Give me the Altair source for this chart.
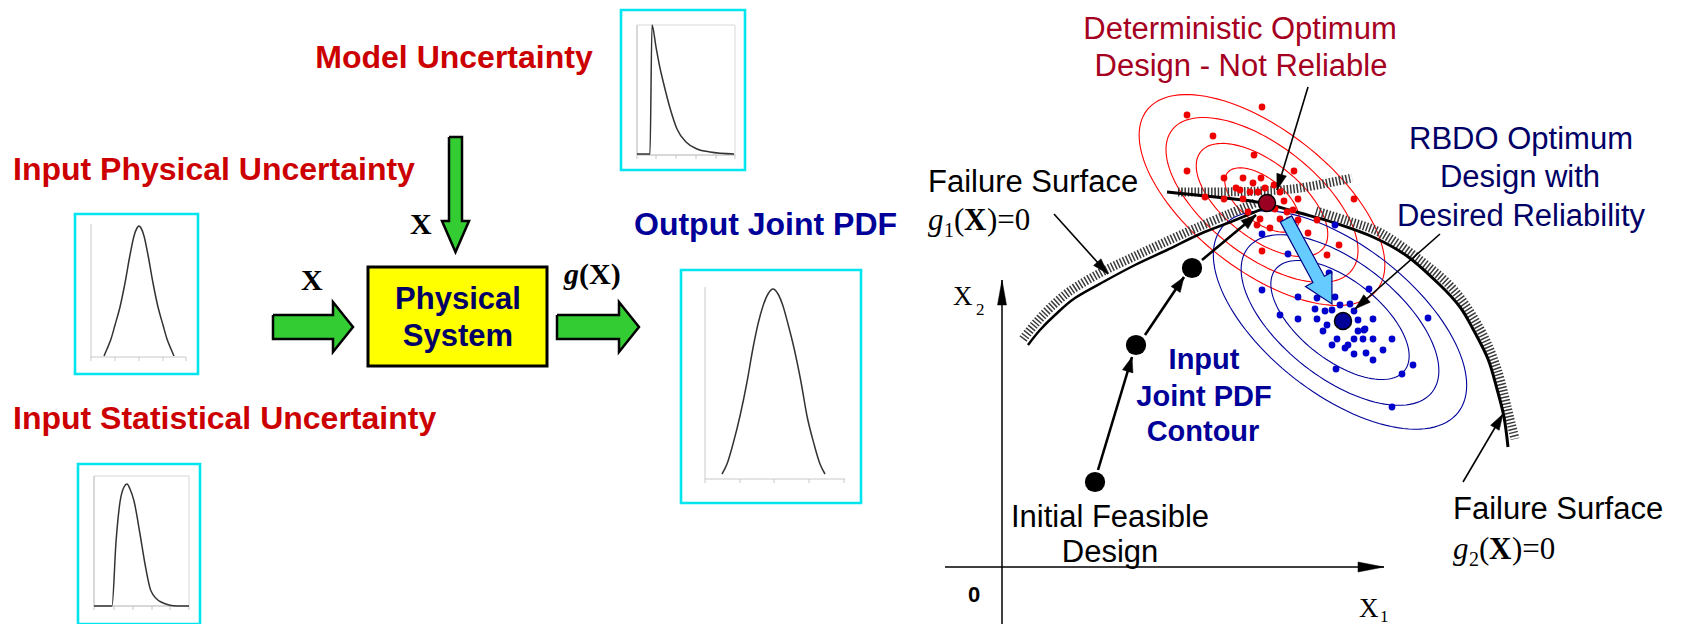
import math
import altair as alt
import pandas as pd

PAGE_W, PAGE_H, MARGIN = 1681, 624, 8
PLOT_W, PLOT_H = PAGE_W - 2 * MARGIN, PAGE_H - 2 * MARGIN

# ---------------- left half: boxes ----------------
BOX_X1 = [621, 75, 681, 78]      # model, physical, output, statistical
BOX_X2 = [745, 198, 861, 200]
BOX_Y1 = [8, 212, 268, 462]
BOX_Y2 = [168, 372, 501, 622]

SYS_X1, SYS_X2, SYS_Y1, SYS_Y2 = [368], [547], [265], [364]

FRAME_X1 = [637, 91, 705, 94]
FRAME_X2 = [735, 186, 845, 189]
FRAME_Y1 = [23, 222, 285, 474]
FRAME_Y2 = [153, 355, 477, 604]
FRAME_FULL = [True, False, False, True]

TICK_X = [[637, 656, 676, 696, 716, 735], [91, 115, 139, 163, 186],
          [705, 740, 774, 809, 844], [94, 114, 133, 152, 170, 189]]

# mini pdf curves
MODEL_PDF_X = [637, 650, 652, 656, 660, 664, 670, 677, 686, 697, 710, 734]
MODEL_PDF_Y = [152, 152, 23, 45, 66, 83, 106, 127, 140, 147, 150, 152]
PHYS_PDF_X = [104, 107, 111, 115, 120, 125, 130, 134, 137, 139, 141, 144, 148, 153, 158, 163, 167, 171, 174]
PHYS_PDF_Y = [354, 347, 337, 323, 305, 281, 253, 234, 226, 224, 226, 234, 253, 281, 305, 323, 337, 347, 354]
OUT_PDF_X = [722, 727, 733, 740, 747, 753, 758, 763, 768, 773, 778, 783, 788, 794, 801, 807, 814, 820, 825]
OUT_PDF_Y = [472, 462, 442, 414, 380, 346, 322, 304, 292, 287, 292, 304, 322, 346, 380, 414, 442, 462, 472]
STAT_PDF_X = [94, 112, 116, 120, 124, 127, 130, 134, 140, 145, 151, 161, 177, 189]
STAT_PDF_Y = [604, 604, 540, 500, 485, 482, 487, 499, 532, 562, 589, 600, 604, 604]

# green block arrows (outline vertices)
ARROW_DOWN = [(449, 135), (462, 135), (462, 219), (469, 219), (455.5, 250), (442, 219), (449, 219)]
ARROW_IN = [(273, 313), (333, 313), (333, 300), (353, 325), (333, 350), (333, 337), (273, 337)]
ARROW_OUT = [(557, 313), (619, 313), (619, 300), (639, 325), (619, 350), (619, 337), (557, 337)]

# ---------------- right half: RBDO sketch ----------------
G1_X = [1028, 1040, 1055, 1075, 1105, 1135, 1167, 1200, 1233, 1262]
G1_Y = [343, 328, 313, 296, 279, 263, 248, 232, 219, 207]
G1_HATCH_X = [1023, 1035, 1050, 1070, 1100, 1131, 1163, 1196, 1229, 1255]
G1_HATCH_Y = [337, 322, 306, 289, 271, 256, 241, 226, 212, 201]
TOP_HATCH_X = [1178, 1220, 1260, 1300, 1352]
TOP_HATCH_Y = [190, 190, 189, 186, 176]
G2_X = [1167, 1243, 1267, 1300, 1335, 1373, 1407, 1440, 1460, 1473, 1488, 1497, 1504, 1508]
G2_Y = [190, 198, 202, 211, 221, 235, 254, 283, 305, 327, 357, 387, 415, 445]
G2_HATCH_X = [1316, 1348, 1381, 1420, 1454, 1480, 1497, 1510, 1515]
G2_HATCH_Y = [209, 219, 231, 258, 288, 327, 367, 417, 437]

# joint pdf contours: centre, semi-axes, tilt (deg)
RED_C = (1262, 198)
RED_A = [146, 114, 78, 44]
RED_B = [70, 55, 38, 22]
BLUE_C = (1340, 318)
BLUE_A = [150, 117, 82]
BLUE_B = [74, 58, 40]
TILT = 38

RED_X = [1187, 1262, 1213, 1254, 1187, 1294, 1224, 1243, 1253, 1261, 1274, 1265, 1240, 1250,
         1258, 1205, 1224, 1243, 1280, 1284, 1298, 1354, 1248, 1260, 1257, 1270, 1280, 1287,
         1293, 1289, 1298, 1317, 1308, 1262, 1339, 1327, 1275, 1236]
RED_Y = [113, 105, 134, 153, 169, 169, 176, 176, 181, 176, 183, 186, 188, 190,
         190, 195, 197, 197, 190, 199, 197, 197, 210, 217, 223, 226, 217, 210,
         208, 218, 218, 218, 231, 249, 243, 253, 207, 186]
BLUE_X = [1262, 1288, 1329, 1262, 1298, 1317, 1335, 1369, 1280, 1298, 1315, 1325, 1332, 1340,
          1350, 1354, 1358, 1373, 1317, 1327, 1323, 1337, 1332, 1345, 1348, 1354, 1358, 1365,
          1363, 1373, 1354, 1366, 1383, 1373, 1392, 1336, 1402, 1335, 1428, 1392, 1413, 1364]
BLUE_Y = [232, 252, 271, 288, 295, 296, 295, 287, 313, 317, 307, 309, 308, 303,
          302, 309, 318, 317, 317, 323, 329, 337, 343, 346, 343, 337, 329, 327,
          337, 337, 352, 351, 348, 358, 337, 367, 372, 223, 316, 405, 363, 328]

DESIGN_X = [1095, 1136, 1192]
DESIGN_Y = [480, 343, 266]
OPT_X = [1267, 1343]
OPT_Y = [201, 319]

PATH_ARROWS = [(1098, 468, 1132, 355), (1145, 333, 1184, 275), (1202, 258, 1256, 213)]
POINTERS = [(1308, 85, 1277, 188), (1054, 212, 1108, 272), (1440, 232, 1355, 307), (1463, 480, 1503, 412)]
AXES = [(1002, 630, 1002, 278), (945, 565, 1384, 565)]
MOVE_FROM, MOVE_TO = (1286, 217), (1332, 302)

# ---------------- texts ----------------
STYLES = {
    "red": dict(font="Liberation Sans", fontSize=32, fontWeight="bold", color="#CC0000"),
    "navy": dict(font="Liberation Sans", fontSize=32, fontWeight="bold", color="#000099"),
    "sys": dict(font="Liberation Sans", fontSize=31, fontWeight="bold", color="#000066"),
    "det": dict(font="Liberation Sans", fontSize=31, color="#A50021"),
    "rbdo": dict(font="Liberation Sans", fontSize=31, color="#000066"),
    "blk": dict(font="Liberation Sans", fontSize=31, color="#000000"),
    "cont": dict(font="Liberation Sans", fontSize=29, fontWeight="bold", color="#000099"),
    "zero": dict(font="Liberation Sans", fontSize=22, fontWeight="bold", color="#000000"),
    "sb": dict(font="Liberation Serif", fontSize=30, fontWeight="bold", color="#000000"),
    "sbi": dict(font="Liberation Serif", fontSize=30, fontWeight="bold", fontStyle="italic", color="#000000"),
    "si": dict(font="Liberation Serif", fontSize=31, fontStyle="italic", color="#000000"),
    "s": dict(font="Liberation Serif", fontSize=31, color="#000000"),
    "sb31": dict(font="Liberation Serif", fontSize=31, fontWeight="bold", color="#000000"),
    "sub": dict(font="Liberation Serif", fontSize=20, color="#000000"),
    "ax": dict(font="Liberation Serif", fontSize=27, color="#000000"),
    "axsub": dict(font="Liberation Serif", fontSize=17, color="#000000"),
}
TEXTS = [
    ("red", "center", "Model Uncertainty", 454, 66),
    ("red", "left", "Input Physical Uncertainty", 13, 178),
    ("red", "left", "Input Statistical Uncertainty", 13, 427),
    ("navy", "left", "Output Joint PDF", 634, 233),
    ("sys", "center", "Physical", 458, 307),
    ("sys", "center", "System", 458, 344),
    ("sb", "left", "X", 410, 232),
    ("sb", "left", "X", 301, 288),
    ("sbi", "left", "g", 564, 282),
    ("sb", "left", "(X)", 579, 282),
    ("det", "center", "Deterministic Optimum", 1240, 37),
    ("det", "center", "Design - Not Reliable", 1241, 74),
    ("blk", "left", "Failure Surface", 928, 190),
    ("si", "left", "g", 928, 228),
    ("sub", "left", "1", 944, 235),
    ("s", "left", "(", 954, 228),
    ("sb31", "left", "X", 964, 228),
    ("s", "left", ")=0", 987, 228),
    ("rbdo", "center", "RBDO Optimum", 1521, 147),
    ("rbdo", "center", "Design with", 1520, 185),
    ("rbdo", "center", "Desired Reliability", 1521, 224),
    ("cont", "center", "Input", 1204, 367),
    ("cont", "center", "Joint PDF", 1204, 404),
    ("cont", "center", "Contour", 1203, 439),
    ("blk", "center", "Initial Feasible", 1110, 525),
    ("blk", "center", "Design", 1110, 560),
    ("blk", "left", "Failure Surface", 1453, 517),
    ("si", "left", "g", 1453, 557),
    ("sub", "left", "2", 1469, 564),
    ("s", "left", "(", 1479, 557),
    ("sb31", "left", "X", 1489, 557),
    ("s", "left", ")=0", 1512, 557),
    ("ax", "left", "X", 953, 303),
    ("axsub", "left", "2", 976, 313),
    ("ax", "left", "X", 1359, 615),
    ("axsub", "left", "1", 1380, 620),
    ("zero", "center", "0", 974, 600),
]

# ---------------- helpers ----------------
xs = alt.Scale(domain=[MARGIN, PAGE_W - MARGIN], nice=False, zero=False)
ys = alt.Scale(domain=[MARGIN, PAGE_H - MARGIN], reverse=True, nice=False, zero=False)


def X(f="x"):
    return alt.X(f"{f}:Q", scale=xs, axis=None)


def Y(f="y"):
    return alt.Y(f"{f}:Q", scale=ys, axis=None)


def poly_layer(polys, fill, stroke, sw):
    rows = []
    for gi, pts in enumerate(polys):
        for oi, (px, py) in enumerate(list(pts) + [pts[0]]):
            rows.append(dict(x=px, y=py, o=oi, g=gi))
    return alt.Chart(pd.DataFrame(rows)).mark_line(
        fill=fill, stroke=stroke, strokeWidth=sw, strokeJoin="miter"
    ).encode(X(), Y(), order="o:Q", detail="g:N")


def curve_layer(xl, yl, **kw):
    df = pd.DataFrame(dict(x=xl, y=yl, o=range(len(xl))))
    return alt.Chart(df).mark_line(**kw).encode(X(), Y(), order="o:Q")


def head(seg, L, w):
    x1, y1, x2, y2 = seg
    d = math.hypot(x2 - x1, y2 - y1)
    ux, uy = (x2 - x1) / d, (y2 - y1) / d
    bx, by = x2 - L * ux, y2 - L * uy
    return [(x2, y2), (bx - w * uy, by + w * ux), (bx + w * uy, by - w * ux)]


def rule_layer(segs, sw, color="black"):
    df = pd.DataFrame(segs, columns=["x", "y", "x2", "y2"])
    return alt.Chart(df).mark_rule(strokeWidth=sw, color=color).encode(
        X(), Y(), x2="x2:Q", y2="y2:Q")


def ellipse_layer(c, A, B, color):
    rows = []
    th = math.radians(TILT)
    for gi, (a, b) in enumerate(zip(A, B)):
        for k in range(121):
            t = 2 * math.pi * k / 120
            rows.append(dict(
                x=c[0] + a * math.cos(t) * math.cos(th) - b * math.sin(t) * math.sin(th),
                y=c[1] + a * math.cos(t) * math.sin(th) + b * math.sin(t) * math.cos(th),
                o=k, g=gi))
    return alt.Chart(pd.DataFrame(rows)).mark_line(stroke=color, strokeWidth=1.1).encode(
        X(), Y(), order="o:Q", detail="g:N")


def block_arrow(p0, p1, shaft, hw, hl):
    d = math.hypot(p1[0] - p0[0], p1[1] - p0[1])
    ux, uy = (p1[0] - p0[0]) / d, (p1[1] - p0[1]) / d
    nx, ny = -uy, ux
    bx, by = p1[0] - hl * ux, p1[1] - hl * uy
    return [(p0[0] + shaft * nx, p0[1] + shaft * ny), (bx + shaft * nx, by + shaft * ny),
            (bx + hw * nx, by + hw * ny), p1, (bx - hw * nx, by - hw * ny),
            (bx - shaft * nx, by - shaft * ny), (p0[0] - shaft * nx, p0[1] - shaft * ny)]


layers = []

# boxes
boxes = pd.DataFrame(dict(x=BOX_X1, x2=BOX_X2, y=BOX_Y1, y2=BOX_Y2))
layers.append(alt.Chart(boxes).mark_rect(fill="white", stroke="#00E5EE", strokeWidth=2.6).encode(
    X(), Y(), x2="x2:Q", y2="y2:Q"))
full = pd.DataFrame(dict(x=[a for a, f in zip(FRAME_X1, FRAME_FULL) if f],
                         x2=[a for a, f in zip(FRAME_X2, FRAME_FULL) if f],
                         y=[a for a, f in zip(FRAME_Y1, FRAME_FULL) if f],
                         y2=[a for a, f in zip(FRAME_Y2, FRAME_FULL) if f]))
layers.append(alt.Chart(full).mark_rect(fill="white", stroke="#D8D8D8", strokeWidth=1).encode(
    X(), Y(), x2="x2:Q", y2="y2:Q"))
axes_segs = []
for i in range(4):
    axes_segs.append((FRAME_X1[i], FRAME_Y1[i], FRAME_X1[i], FRAME_Y2[i]))
    axes_segs.append((FRAME_X1[i], FRAME_Y2[i], FRAME_X2[i], FRAME_Y2[i]))
    for tx in TICK_X[i]:
        axes_segs.append((tx, FRAME_Y2[i], tx, FRAME_Y2[i] + 4))
layers.append(rule_layer(axes_segs, 0.8, "#BBBBBB"))
for cx, cy in [(MODEL_PDF_X, MODEL_PDF_Y), (PHYS_PDF_X, PHYS_PDF_Y),
               (OUT_PDF_X, OUT_PDF_Y), (STAT_PDF_X, STAT_PDF_Y)]:
    layers.append(curve_layer(cx, cy, stroke="#333333", strokeWidth=1.5, interpolate="monotone"))

# system block and arrows
sysdf = pd.DataFrame(dict(x=SYS_X1, x2=SYS_X2, y=SYS_Y1, y2=SYS_Y2))
layers.append(alt.Chart(sysdf).mark_rect(fill="#FFFF00", stroke="black", strokeWidth=3).encode(
    X(), Y(), x2="x2:Q", y2="y2:Q"))
layers.append(poly_layer([ARROW_DOWN, ARROW_IN, ARROW_OUT], "#33CC33", "black", 2.5))

# right sketch
layers.append(ellipse_layer(RED_C, RED_A, RED_B, "#FF0000"))
layers.append(ellipse_layer(BLUE_C, BLUE_A, BLUE_B, "#000099"))
hatch = dict(stroke="#3A3A3A", strokeWidth=9, strokeDash=[1.5, 1.8], interpolate="cardinal")
layers.append(curve_layer(G1_HATCH_X, G1_HATCH_Y, **hatch))
layers.append(curve_layer(TOP_HATCH_X, TOP_HATCH_Y, **hatch))
layers.append(curve_layer(G2_HATCH_X, G2_HATCH_Y, **hatch))
layers.append(curve_layer(G1_X, G1_Y, stroke="black", strokeWidth=2.5, interpolate="cardinal"))
layers.append(curve_layer(G2_X, G2_Y, stroke="black", strokeWidth=3, interpolate="cardinal"))

layers.append(alt.Chart(pd.DataFrame(dict(x=RED_X, y=RED_Y))).mark_circle(
    size=46, color="#EE0000", opacity=1).encode(X(), Y()))
layers.append(alt.Chart(pd.DataFrame(dict(x=BLUE_X, y=BLUE_Y))).mark_circle(
    size=46, color="#0000CC", opacity=1).encode(X(), Y()))

# axes
layers.append(rule_layer(AXES, 1.5))
layers.append(poly_layer([head(AXES[0], 25, 4.5), head(AXES[1], 26, 5)], "black", "black", 0.5))

# design path
layers.append(rule_layer(PATH_ARROWS, 2.6))
layers.append(poly_layer([head(s, 15, 5.5) for s in PATH_ARROWS], "black", "black", 0.5))
layers.append(alt.Chart(pd.DataFrame(dict(x=DESIGN_X, y=DESIGN_Y))).mark_circle(
    size=410, color="black", opacity=1).encode(X(), Y()))

layers.append(poly_layer([block_arrow(MOVE_FROM, MOVE_TO, 6.5, 15, 28)], "#66CCFF", "#000080", 1.2))
opt = pd.DataFrame(dict(x=OPT_X, y=OPT_Y, c=["#990022", "#000099"]))
layers.append(alt.Chart(opt).mark_point(size=290, filled=True, stroke="black", strokeWidth=1.5,
                                        opacity=1, shape="circle").encode(
    X(), Y(), fill=alt.Fill("c:N", scale=None)))

layers.append(rule_layer(POINTERS, 1.6))
layers.append(poly_layer([head(s, 16, 5) for s in POINTERS], "black", "black", 0.5))

# texts
groups = {}
for st, al, t, tx, ty in TEXTS:
    groups.setdefault((st, al), []).append(dict(t=t, x=tx, y=ty))
for (st, al), rows in groups.items():
    layers.append(alt.Chart(pd.DataFrame(rows)).mark_text(
        align=al, baseline="alphabetic", **STYLES[st]).encode(X(), Y(), text="t:N"))

chart = alt.layer(*layers).properties(
    width=PLOT_W, height=PLOT_H, padding=0, background="white"
).configure_view(stroke=None, strokeWidth=0)

chart.save("out.html", embed_options={"renderer": "svg", "actions": False})
